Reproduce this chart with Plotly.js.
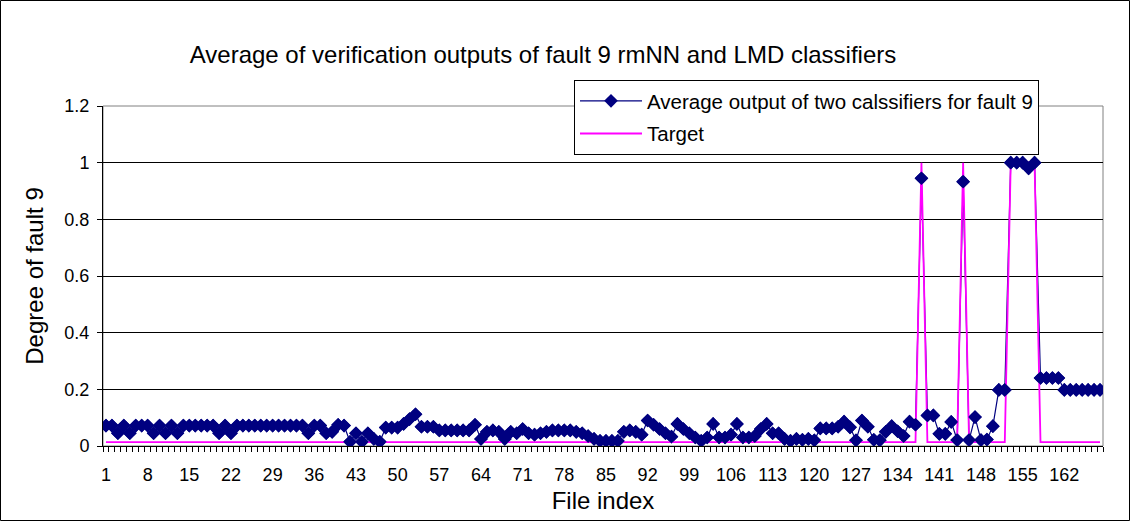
<!DOCTYPE html>
<html><head><meta charset="utf-8">
<script src="https://cdn.plot.ly/plotly-3.0.1.min.js"></script>
<style>html,body{margin:0;padding:0;background:#fff}#chart{width:1130px;height:521px}</style>
</head><body><div id="chart"></div>
<script>
const fileIndex = [
  1,2,3,4,5,6,7,8,9,10,11,12,13,14,15,16,17,18,19,20,
  21,22,23,24,25,26,27,28,29,30,31,32,33,34,35,36,37,38,39,40,
  41,42,43,44,45,46,47,48,49,50,51,52,53,54,55,56,57,58,59,60,
  61,62,63,64,65,66,67,68,69,70,71,72,73,74,75,76,77,78,79,80,
  81,82,83,84,85,86,87,88,89,90,91,92,93,94,95,96,97,98,99,100,
  101,102,103,104,105,106,107,108,109,110,111,112,113,114,115,116,117,118,119,120,
  121,122,123,124,125,126,127,128,129,130,131,132,133,134,135,136,137,138,139,140,
  141,142,143,144,145,146,147,148,149,150,151,152,153,154,155,156,157,158,159,160,
  161,162,163,164,165,166,167,168
];
const avgOutput = [
  0.072,0.072,0.045,0.072,0.045,0.072,0.072,0.072,0.045,0.072,
  0.045,0.072,0.045,0.072,0.072,0.072,0.072,0.072,0.072,0.045,
  0.072,0.045,0.072,0.072,0.072,0.072,0.072,0.072,0.072,0.072,
  0.072,0.072,0.072,0.072,0.045,0.072,0.072,0.045,0.05,0.075,
  0.072,0.015,0.045,0.015,0.045,0.025,0.015,0.065,0.065,0.065,
  0.078,0.095,0.112,0.068,0.068,0.068,0.055,0.055,0.055,0.055,
  0.055,0.055,0.075,0.025,0.05,0.055,0.05,0.025,0.05,0.045,
  0.06,0.045,0.04,0.045,0.05,0.055,0.055,0.055,0.055,0.05,
  0.045,0.035,0.025,0.018,0.018,0.018,0.018,0.05,0.055,0.05,
  0.04,0.09,0.075,0.06,0.045,0.033,0.078,0.06,0.045,0.03,
  0.018,0.03,0.078,0.03,0.03,0.04,0.078,0.03,0.03,0.035,
  0.06,0.078,0.045,0.045,0.025,0.018,0.025,0.022,0.025,0.02,
  0.062,0.062,0.062,0.068,0.086,0.066,0.02,0.09,0.068,0.022,
  0.02,0.05,0.07,0.052,0.035,0.086,0.075,0.945,0.108,0.108,
  0.043,0.043,0.085,0.021,0.933,0.021,0.102,0.021,0.023,0.07,
  0.198,0.198,1,1,1,0.98,1,0.24,0.24,0.24,
  0.24,0.198,0.198,0.198,0.198,0.198,0.198,0.198
];
const target = [
  0.014,0.014,0.014,0.014,0.014,0.014,0.014,0.014,0.014,0.014,
  0.014,0.014,0.014,0.014,0.014,0.014,0.014,0.014,0.014,0.014,
  0.014,0.014,0.014,0.014,0.014,0.014,0.014,0.014,0.014,0.014,
  0.014,0.014,0.014,0.014,0.014,0.014,0.014,0.014,0.014,0.014,
  0.014,0.014,0.014,0.014,0.014,0.014,0.014,0.014,0.014,0.014,
  0.014,0.014,0.014,0.014,0.014,0.014,0.014,0.014,0.014,0.014,
  0.014,0.014,0.014,0.014,0.014,0.014,0.014,0.014,0.014,0.014,
  0.014,0.014,0.014,0.014,0.014,0.014,0.014,0.014,0.014,0.014,
  0.014,0.014,0.014,0.014,0.014,0.014,0.014,0.014,0.014,0.014,
  0.014,0.014,0.014,0.014,0.014,0.014,0.014,0.014,0.014,0.014,
  0.014,0.014,0.014,0.014,0.014,0.014,0.014,0.014,0.014,0.014,
  0.014,0.014,0.014,0.014,0.014,0.014,0.014,0.014,0.014,0.014,
  0.014,0.014,0.014,0.014,0.014,0.014,0.014,0.014,0.014,0.014,
  0.014,0.014,0.014,0.014,0.014,0.014,0.014,1,0.014,0.014,
  0.014,0.014,0.014,0.014,1,0.014,0.014,0.014,0.014,0.014,
  0.014,0.014,1,1,1,1,1,0.014,0.014,0.014,
  0.014,0.014,0.014,0.014,0.014,0.014,0.014,0.014
];
const xTickValues = [1,8,15,22,29,36,43,50,57,64,71,78,85,92,99,106,113,120,127,134,141,148,155,162];
const xTickLabels = ['1','8','15','22','29','36','43','50','57','64','71','78','85','92','99','106','113','120','127','134','141','148','155','162'];
const yTickValues = [0,0.2,0.4,0.6,0.8,1,1.2];
const yTickLabels = ['0','0.2','0.4','0.6','0.8','1','1.2'];

const FONT = 'Liberation Sans, Arial, sans-serif';
const NAVY = '#000080', PINK = '#FF00FF';
const L = 103, R = 1103, T = 106, B = 446, W = 1130, H = 521;
const px = v => (v - L) / (R - L);
const py = v => (B - v) / (B - T);

const markerStyle = {symbol: 'diamond', size: 10.5, color: NAVY, line: {width: 0}};

const traces = [
  {x: fileIndex, y: avgOutput, type: 'scatter', mode: 'lines+markers',
   name: 'Average output of two calssifiers for fault 9', legendgroup: 'g1',
   line: {color: NAVY, width: 1.2}, marker: markerStyle, hoverinfo: 'skip'},
  {x: fileIndex, y: target, type: 'scatter', mode: 'lines',
   name: 'Target', legendgroup: 'g2',
   line: {color: PINK, width: 1.8}, hoverinfo: 'skip'},
  {x: fileIndex, y: avgOutput, type: 'scatter', mode: 'markers',
   showlegend: false, legendgroup: 'g1', marker: markerStyle, hoverinfo: 'skip'}
];

const layout = {
  width: W, height: H,
  margin: {l: L, r: W - R, t: T, b: H - B, pad: 0},
  paper_bgcolor: '#fff', plot_bgcolor: '#fff',
  font: {family: FONT, color: '#000'},
  title: {text: 'Average of verification outputs of fault 9 rmNN and LMD classifiers',
          font: {family: FONT, size: 24, color: '#000'},
          x: 543 / W, xanchor: 'center', xref: 'container', y: 1 - 55 / H, yanchor: 'middle', yref: 'container'},
  xaxis: {
    range: [0.5, 168.5], tickmode: 'array', tickvals: xTickValues, ticktext: xTickLabels,
    ticks: '', showgrid: false, zeroline: false, showline: true, linecolor: '#000', linewidth: 1,
    tickfont: {family: FONT, size: 18, color: '#000'}, ticklabelstandoff: 12,
    minor: {tickmode: 'linear', tick0: 0.5, dtick: 1, ticks: 'outside', ticklen: 5, tickcolor: '#000', tickwidth: 1, showgrid: false},
    title: {text: 'File index', font: {family: FONT, size: 24, color: '#000'}, standoff: 8}
  },
  yaxis: {
    range: [0, 1.2], tickmode: 'array', tickvals: yTickValues, ticktext: yTickLabels,
    ticks: 'outside', ticklen: 5, tickcolor: '#000', tickwidth: 1,
    showgrid: true, gridcolor: '#000', gridwidth: 1, zeroline: false,
    showline: true, linecolor: '#000', linewidth: 1,
    tickfont: {family: FONT, size: 18, color: '#000'}, ticklabelstandoff: 4,
    title: {text: 'Degree of fault 9', font: {family: FONT, size: 24, color: '#000'}, standoff: 13}
  },
  legend: {
    x: px(574), y: py(80), xanchor: 'left', yanchor: 'top',
    bgcolor: '#fff', bordercolor: '#000', borderwidth: 1,
    font: {family: FONT, size: 20.5, color: '#000'}, tracegroupgap: 3, itemwidth: 62
  },
  shapes: [
    {type: 'rect', xref: 'paper', yref: 'paper', x0: 0, y0: 0, x1: 1, y1: 1,
     line: {color: '#808080', width: 1}, layer: 'between'},
    {type: 'rect', xref: 'paper', yref: 'paper', x0: px(0.5), y0: py(520.5), x1: px(1129.5), y1: py(0.5),
     line: {color: '#000', width: 1}, layer: 'above'}
  ],
  showlegend: true
};

Plotly.newPlot('chart', traces, layout, {staticPlot: true, displayModeBar: false});
</script>
</body></html>
